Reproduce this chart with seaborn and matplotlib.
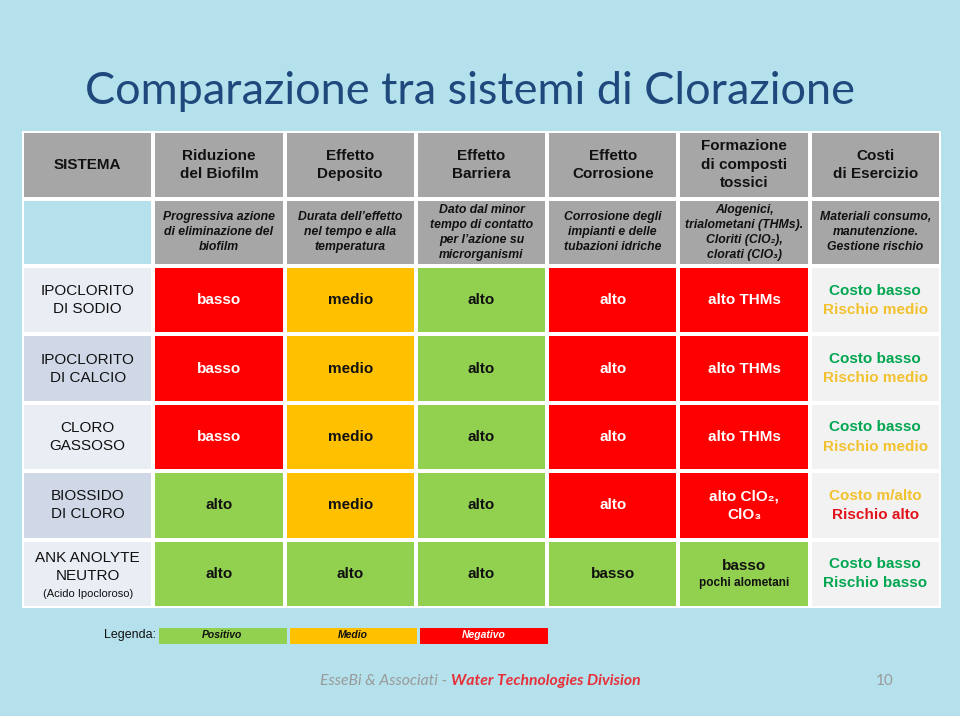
import numpy as np
import seaborn as sns
import matplotlib.pyplot as plt
from matplotlib.colors import ListedColormap

# Data
criteri = ["Riduzione\ndel Biofilm", "Effetto\nDeposito", "Effetto\nBarriera",
           "Effetto\nCorrosione", "Formazione\ndi composti\ntossici", "Costi\ndi Esercizio"]
descrizioni = ["Progressiva azione\ndi eliminazione del\nbiofilm",
               "Durata dell\u2019effetto\nnel tempo e alla\ntemperatura",
               "Dato dal minor\ntempo di contatto\nper l\u2019azione su\nmicrorganismi",
               "Corrosione degli\nimpianti e delle\ntubazioni idriche",
               "Alogenici,\ntrialometani (THMs).\nCloriti (ClO\u2082),\nclorati (ClO\u2083)",
               "Materiali consumo,\nmanutenzione.\nGestione rischio"]
sistemi = ["IPOCLORITO\nDI SODIO", "IPOCLORITO\nDI CALCIO", "CLORO\nGASSOSO",
           "BIOSSIDO\nDI CLORO", "ANK ANOLYTE\nNEUTRO"]
note_sistemi = ["", "", "", "", "(Acido Ipocloroso)"]
valori = [["basso", "medio", "alto", "alto", "alto THMs"],
          ["basso", "medio", "alto", "alto", "alto THMs"],
          ["basso", "medio", "alto", "alto", "alto THMs"],
          ["alto", "medio", "alto", "alto", "alto ClO\u2082,\nClO\u2083"],
          ["alto", "alto", "alto", "basso", "basso"]]
note_valori = [["", "", "", "", ""]] * 4 + [["", "", "", "", "pochi alometani"]]
# 0 = positivo, 1 = medio, 2 = negativo
giudizi = [[2, 1, 0, 2, 2],
           [2, 1, 0, 2, 2],
           [2, 1, 0, 2, 2],
           [0, 1, 0, 2, 2],
           [0, 0, 0, 0, 0]]
costi = ["Costo basso", "Costo basso", "Costo basso", "Costo m/alto", "Costo basso"]
rischi = ["Rischio medio", "Rischio medio", "Rischio medio", "Rischio alto", "Rischio basso"]
giudizio_costi = [0, 0, 0, 1, 0]
giudizio_rischi = [1, 1, 1, 2, 0]
legenda = ["Positivo", "Medio", "Negativo"]

verde, arancio, rosso = "#92D050", "#FFC000", "#FF0000"
col_testo = {0: "#00A650", 1: "#F2C12E", 2: "#E3131B"}
bg = "#B4E1EB"

plt.rcParams['font.family'] = ['Liberation Sans', 'DejaVu Sans']

fig = plt.figure(figsize=(9.6, 7.16), dpi=100)
fig.patch.set_facecolor(bg)
W, H = 960, 716


def px_axes(x0, y0, x1, y1):
    return fig.add_axes([x0 / W, 1 - y1 / H, (x1 - x0) / W, (y1 - y0) / H])


# Header (2 rows x 7 cols)
ax_h = px_axes(22, 131, 941, 266)
head = np.zeros((2, 7))
mask = np.zeros((2, 7), dtype=bool)
mask[1, 0] = True
sns.heatmap(head, mask=mask, cmap=ListedColormap(["#A6A6A6"]), cbar=False,
            linewidths=1.6, linecolor="white", ax=ax_h)
ax_h.set_axis_off()
ax_h.text(0.5, 0.5, "SISTEMA", ha="center", va="center", fontsize=11,
          fontweight="bold", color="#111111")
for j, c in enumerate(criteri):
    ax_h.text(j + 1.5, 0.5, c, ha="center", va="center", fontsize=11,
              fontweight="bold", color="#111111", linespacing=1.4)
for j, d in enumerate(descrizioni):
    ax_h.text(j + 1.5, 1.5, d, ha="center", va="center", fontsize=8.8,
              fontweight="bold", style="italic", color="#111111", linespacing=1.35)

# Body (5 rows x 7 cols)
ax_b = px_axes(22, 266, 941, 608)
body = np.array([[3 + (i % 2)] + giudizi[i] + [5] for i in range(len(sistemi))])
cmap_b = ListedColormap([verde, arancio, rosso, "#E9EDF4", "#D0D8E8", "#F2F2F2"])
sns.heatmap(body, cmap=cmap_b, vmin=-0.5, vmax=5.5, cbar=False,
            linewidths=1.6, linecolor="white", ax=ax_b)
ax_b.set_axis_off()
for i, s in enumerate(sistemi):
    if note_sistemi[i]:
        ax_b.text(0.5, i + 0.40, s, ha="center", va="center", fontsize=11,
                  color="#111111", linespacing=1.35)
        ax_b.text(0.5, i + 0.80, note_sistemi[i], ha="center", va="center",
                  fontsize=8, color="#111111")
    else:
        ax_b.text(0.5, i + 0.5, s, ha="center", va="center", fontsize=11,
                  color="#111111", linespacing=1.35)
    for j, v in enumerate(valori[i]):
        tc = "white" if giudizi[i][j] == 2 else "#111111"
        if note_valori[i][j]:
            ax_b.text(j + 1.5, i + 0.38, v, ha="center", va="center", fontsize=11,
                      fontweight="bold", color=tc)
            ax_b.text(j + 1.5, i + 0.64, note_valori[i][j], ha="center", va="center",
                      fontsize=8.5, fontweight="bold", color=tc)
        else:
            ax_b.text(j + 1.5, i + 0.5, v, ha="center", va="center", fontsize=11,
                      fontweight="bold", color=tc, linespacing=1.4)
    ax_b.text(6.5, i + 0.36, costi[i], ha="center", va="center", fontsize=11,
              fontweight="bold", color=col_testo[giudizio_costi[i]])
    ax_b.text(6.5, i + 0.64, rischi[i], ha="center", va="center", fontsize=11,
              fontweight="bold", color=col_testo[giudizio_rischi[i]])

# Legend row
ax_l = px_axes(157, 626, 549, 645)
sns.heatmap(np.array([[0, 1, 2]]), cmap=ListedColormap([verde, arancio, rosso]),
            vmin=-0.5, vmax=2.5, cbar=False, linewidths=1, linecolor=bg, ax=ax_l)
ax_l.set_axis_off()
for j, t in enumerate(legenda):
    ax_l.text(j + 0.5, 0.5, t, ha="center", va="center", fontsize=7.5,
              fontweight="bold", style="italic", color="white" if j == 2 else "#111111")
fig.text(156 / W, 1 - 635 / H, "Legenda:", ha="right", va="center", fontsize=9,
         color="#111111")

# Title
fig.text(470 / W, 1 - 91 / H, "Comparazione tra sistemi di Clorazione", ha="center",
         va="center", fontsize=32.5, color="#1F497D", family="Lato")

# Footer
t1 = fig.text(320 / W, 1 - 681 / H, "EsseBi & Associati - ", ha="left", va="center",
              fontsize=11.3, style="italic", color="#9A9A9A", family="Lato")
fig.canvas.draw()
bb = t1.get_window_extent()
fig.text(bb.x1 / W, 1 - 681 / H, "Water Technologies Division", ha="left", va="center",
         fontsize=11.3, style="italic", fontweight="bold", color="#E8303A", family="Lato")
fig.text(885 / W, 1 - 681 / H, "10", ha="center", va="center", fontsize=11,
         color="#9A9A9A", family="Lato")

fig.savefig("out.png", dpi=100, facecolor=bg)
